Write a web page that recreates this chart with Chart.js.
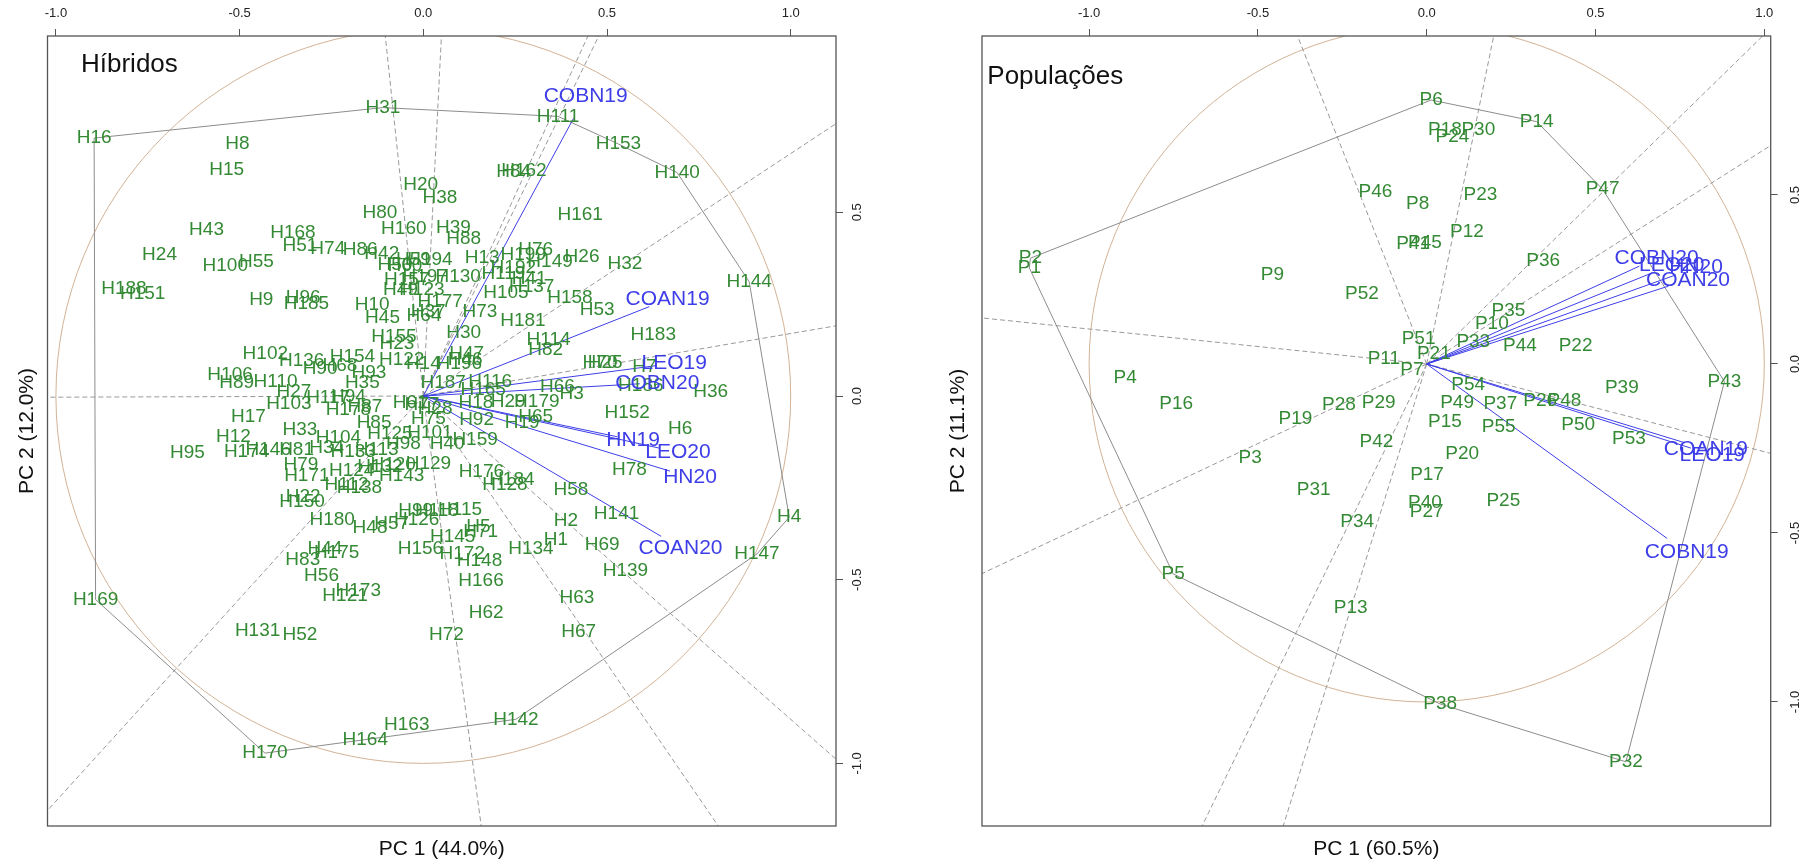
<!DOCTYPE html>
<html><head><meta charset="utf-8">
<script src="https://cdn.jsdelivr.net/npm/chart.js@4/dist/chart.umd.min.js"></script>
<style>
html,body{margin:0;padding:0;background:#fff;}
#wrap{position:relative;width:1807px;height:867px;overflow:hidden;}
canvas{position:absolute;top:0;}
</style></head><body>
<div id="wrap">
<canvas id="c1" width="903" height="867" style="left:0px"></canvas>
<canvas id="c2" width="904" height="867" style="left:903px"></canvas>
</div>
<script>
// ---------------- data ----------------
const tickValues = [-1, -0.5, 0, 0.5, 1];
const circleRadius = 1;

// Híbridos (genotypes)
const hybNames = ['H16','H31','H111','H153','H140','H144','H4','H147','H142','H163','H164','H170','H169','H8','H15','H20','H38','H80','H160','H39','H88','H43','H168','H51','H74','H86','H42','H24','H100','H55','H188','H151','H9','H96','H185','H10','H45','H64','H37','H177','H49','H123','H157','H197','H130','H50','H60','H59','H194','H84','H162','H161','H76','H26','H32','H13','H199','H149','H119','H192','H41','H105','H137','H158','H53','H73','H181','H183','H30','H114','H82','H25','H70','H7','H186','H36','H66','H3','H152','H6','H78','H58','H141','H2','H1','H134','H69','H139','H63','H67','H62','H72','H166','H148','H172','H156','H5','H145','H71','H99','H118','H115','H180','H48','H57','H126','H173','H121','H56','H83','H44','H175','H131','H52','H150','H22','H171','H79','H124','H138','H112','H143','H120','H129','H132','H133','H113','H98','H125','H85','H101','H75','H28','H92','H40','H159','H176','H128','H184','H19','H65','H18','H29','H179','H187','H116','H165','H47','H196','H122','H14','H46','H155','H23','H154','H136','H102','H90','H68','H93','H35','H106','H89','H110','H27','H103','H117','H94','H178','H87','H17','H12','H95','H174','H146','H81','H34','H104','H33','H61','H77'];
const hybPC1 = [-0.896,-0.110,0.367,0.531,0.691,0.887,0.996,0.908,0.252,-0.045,-0.158,-0.431,-0.892,-0.506,-0.535,-0.007,0.045,-0.118,-0.053,0.082,0.110,-0.590,-0.355,-0.336,-0.260,-0.172,-0.113,-0.718,-0.539,-0.454,-0.815,-0.764,-0.441,-0.327,-0.318,-0.139,-0.111,0.002,0.013,0.046,-0.062,-0.004,-0.045,0.005,0.095,-0.077,-0.050,-0.027,0.018,0.246,0.274,0.427,0.306,0.432,0.549,0.160,0.272,0.345,0.218,0.245,0.288,0.225,0.295,0.399,0.473,0.154,0.271,0.626,0.110,0.341,0.333,0.495,0.481,0.602,0.592,0.782,0.365,0.404,0.555,0.699,0.561,0.402,0.526,0.388,0.361,0.293,0.487,0.550,0.418,0.423,0.171,0.063,0.157,0.153,0.106,-0.008,0.150,0.080,0.156,-0.021,0.037,0.100,-0.248,-0.145,-0.086,-0.018,-0.177,-0.213,-0.277,-0.328,-0.268,-0.236,-0.451,-0.336,-0.330,-0.327,-0.317,-0.333,-0.195,-0.174,-0.209,-0.059,-0.082,0.014,-0.118,-0.191,-0.127,-0.054,-0.091,-0.134,0.018,0.014,0.032,0.145,0.065,0.141,0.158,0.222,0.241,0.269,0.306,0.143,0.231,0.309,0.054,0.182,0.163,0.118,0.098,-0.059,0.000,0.114,-0.080,-0.072,-0.193,-0.331,-0.430,-0.281,-0.227,-0.148,-0.166,-0.526,-0.508,-0.402,-0.352,-0.366,-0.259,-0.204,-0.204,-0.159,-0.476,-0.517,-0.642,-0.481,-0.422,-0.345,-0.263,-0.231,-0.336,-0.036,-0.004];
const hybPC2 = [0.702,0.785,0.761,0.686,0.608,0.311,-0.330,-0.430,-0.880,-0.896,-0.936,-0.972,-0.554,0.686,0.617,0.576,0.540,0.500,0.456,0.458,0.429,0.452,0.443,0.408,0.402,0.399,0.388,0.384,0.355,0.366,0.293,0.278,0.261,0.268,0.250,0.248,0.212,0.218,0.229,0.257,0.289,0.290,0.316,0.325,0.325,0.357,0.354,0.372,0.370,0.611,0.613,0.493,0.397,0.379,0.361,0.375,0.384,0.366,0.334,0.348,0.320,0.282,0.296,0.268,0.236,0.230,0.205,0.166,0.173,0.154,0.125,0.091,0.091,0.080,0.027,0.012,0.025,0.007,-0.046,-0.088,-0.201,-0.254,-0.321,-0.339,-0.392,-0.415,-0.406,-0.476,-0.548,-0.642,-0.589,-0.649,-0.504,-0.449,-0.430,-0.415,-0.356,-0.383,-0.369,-0.312,-0.312,-0.310,-0.338,-0.358,-0.348,-0.338,-0.531,-0.544,-0.490,-0.446,-0.417,-0.426,-0.640,-0.651,-0.288,-0.274,-0.218,-0.188,-0.204,-0.249,-0.242,-0.218,-0.188,-0.185,-0.192,-0.152,-0.147,-0.129,-0.104,-0.074,-0.100,-0.061,-0.034,-0.065,-0.129,-0.120,-0.206,-0.242,-0.229,-0.074,-0.056,-0.018,-0.016,-0.016,0.035,0.039,0.018,0.116,0.089,0.100,0.089,0.100,0.161,0.143,0.107,0.096,0.114,0.075,0.082,0.062,0.035,0.059,0.035,0.039,0.012,-0.020,-0.004,-0.002,-0.038,-0.029,-0.056,-0.111,-0.154,-0.152,-0.147,-0.147,-0.142,-0.115,-0.091,-0.018,-0.023];
const hybHull = ['H16','H31','H111','H153','H140','H144','H4','H147','H142','H170','H169'];
const hybEnvNames = ['COBN19','COAN19','LEO19','COBN20','HN19','LEO20','HN20','COAN20'];
const hybEnvPC1 = [0.442,0.665,0.683,0.637,0.571,0.693,0.726,0.700];
const hybEnvPC2 = [0.817,0.263,0.089,0.036,-0.120,-0.153,-0.221,-0.413];

// Populações
const popNames = ['P6','P14','P47','P43','P32','P38','P5','P1','P2','P9','P52','P46','P4','P16','P11','P19','P28','P29','P3','P31','P34','P42','P13','P18','P24','P30','P8','P23','P12','P41','P45','P36','P35','P10','P33','P44','P22','P51','P21','P7','P54','P49','P37','P26','P48','P15','P55','P20','P17','P40','P27','P25','P39','P50','P53'];
const popPC1 = [0.013,0.326,0.521,0.882,0.590,0.040,-0.751,-1.177,-1.174,-0.457,-0.192,-0.152,-0.893,-0.742,-0.127,-0.389,-0.260,-0.142,-0.523,-0.335,-0.206,-0.149,-0.225,0.054,0.076,0.153,-0.027,0.159,0.119,-0.040,-0.005,0.345,0.242,0.193,0.138,0.276,0.441,-0.024,0.021,-0.044,0.123,0.090,0.218,0.336,0.408,0.054,0.213,0.105,0.001,-0.005,0.000,0.227,0.578,0.449,0.599];
const popPC2 = [0.781,0.717,0.517,-0.052,-1.177,-1.006,-0.621,0.284,0.313,0.263,0.209,0.510,-0.041,-0.118,0.014,-0.161,-0.121,-0.116,-0.276,-0.371,-0.468,-0.230,-0.721,0.692,0.673,0.692,0.475,0.500,0.390,0.355,0.359,0.305,0.157,0.120,0.066,0.053,0.053,0.076,0.030,-0.016,-0.062,-0.116,-0.118,-0.109,-0.109,-0.171,-0.186,-0.266,-0.328,-0.412,-0.437,-0.404,-0.069,-0.181,-0.222];
const popHull = ['P6','P14','P47','P43','P32','P38','P5','P1','P2'];
const popEnvNames = ['COBN20','LEO20','HN20','COAN20','COAN19','LEO19','COBN19'];
const popEnvPC1 = [0.681,0.726,0.798,0.774,0.827,0.846,0.770];
const popEnvPC2 = [0.313,0.293,0.285,0.249,-0.252,-0.269,-0.558];

// ---------------- styles ----------------
const FONT = "'Liberation Sans', Arial, Helvetica, sans-serif";
const GREEN = '#348a34';
const BLUE = '#3e3ee8';
const GRAY = '#8c8c8c';
const CIRCLE = '#d2b396';
const BOX = '#555555';
const VECTOR_FRACTION = 0.925;

function extendToBox(px, py, b) {
  let s = Infinity;
  if (px > 0) s = Math.min(s, b.xMax / px);
  if (px < 0) s = Math.min(s, b.xMin / px);
  if (py > 0) s = Math.min(s, b.yMax / py);
  if (py < 0) s = Math.min(s, b.yMin / py);
  return {x: px * s, y: py * s};
}

function buildDatasets(names, xs, ys, hull, envNames, envX, envY, bounds) {
  const ds = [];
  envNames.forEach((n, i) => {
    ds.push({data: [{x: 0, y: 0}, {x: envX[i] * VECTOR_FRACTION, y: envY[i] * VECTOR_FRACTION}],
      showLine: true, borderColor: BLUE, borderWidth: 1, pointRadius: 0, fill: false});
  });
  const hp = hull.map(n => { const k = names.indexOf(n); return {x: xs[k], y: ys[k]}; });
  hp.push(hp[0]);
  ds.push({data: hp, showLine: true, borderColor: GRAY, borderWidth: 1, pointRadius: 0, fill: false});
  for (let i = 0; i < hull.length; i++) {
    const a = hp[i], b = hp[i + 1];
    const dx = b.x - a.x, dy = b.y - a.y;
    const t = -(a.x * dx + a.y * dy) / (dx * dx + dy * dy);
    const fx = a.x + t * dx, fy = a.y + t * dy;
    const end = extendToBox(fx, fy, bounds);
    ds.push({data: [{x: 0, y: 0}, end], showLine: true, borderColor: '#999999', borderWidth: 1,
      borderDash: [5, 3], pointRadius: 0, fill: false});
  }
  ds.push({data: names.map((n, i) => ({x: xs[i], y: ys[i]})), pointRadius: 0, showLine: false,
    textLabels: names, textColor: GREEN, textSize: 19});
  ds.push({data: envNames.map((n, i) => ({x: envX[i], y: envY[i]})), pointRadius: 0, showLine: false,
    textLabels: envNames, textColor: BLUE, textSize: 21});
  return ds;
}

const biplotPlugin = {
  id: 'biplot',
  beforeDatasetsDraw(chart) {
    const {ctx, chartArea: a, scales: {x, y}} = chart;
    const cx = x.getPixelForValue(0), cy = y.getPixelForValue(0);
    const rx = x.getPixelForValue(circleRadius) - cx;
    const ry = cy - y.getPixelForValue(circleRadius);
    ctx.save();
    ctx.beginPath(); ctx.rect(a.left, a.top, a.right - a.left, a.bottom - a.top); ctx.clip();
    ctx.beginPath(); ctx.ellipse(cx, cy, rx, ry, 0, 0, Math.PI * 2);
    ctx.strokeStyle = CIRCLE; ctx.lineWidth = 1; ctx.stroke();
    ctx.restore();
  },
  afterDatasetsDraw(chart) {
    const ctx = chart.ctx;
    chart.data.datasets.forEach((ds, i) => {
      if (!ds.textLabels) return;
      const meta = chart.getDatasetMeta(i);
      ctx.save();
      ctx.font = ds.textSize + 'px ' + FONT;
      ctx.fillStyle = ds.textColor;
      ctx.textAlign = 'center'; ctx.textBaseline = 'middle';
      meta.data.forEach((el, j) => ctx.fillText(ds.textLabels[j], el.x, el.y));
      ctx.restore();
    });
  },
  afterDraw(chart, args, opts) {
    const {ctx, chartArea: a} = chart;
    ctx.save();
    ctx.strokeStyle = BOX; ctx.lineWidth = 1.3;
    ctx.strokeRect(a.left, a.top, a.right - a.left, a.bottom - a.top);
    ctx.font = '26px ' + FONT; ctx.fillStyle = '#111';
    ctx.textAlign = 'left'; ctx.textBaseline = 'middle';
    ctx.fillText(opts.title, a.left + opts.titleDx, a.top + opts.titleDy);
    ctx.restore();
  }
};

function makeChart(id, p) {
  const b = p.bounds;
  const fmt = v => Number(v).toFixed(1);
  new Chart(document.getElementById(id), {
    type: 'scatter',
    data: {datasets: buildDatasets(p.names, p.xs, p.ys, p.hull, p.envNames, p.envX, p.envY, b)},
    plugins: [biplotPlugin],
    options: {
      responsive: false, animation: false, devicePixelRatio: 1, events: [],
      layout: {padding: 0},
      plugins: {legend: {display: false}, tooltip: {enabled: false},
        biplot: {title: p.title, titleDx: p.titleDx, titleDy: p.titleDy}},
      scales: {
        x: {type: 'linear', position: 'top', min: b.xMin, max: b.xMax,
          afterFit: s => { s.height = 36; },
          afterBuildTicks: s => { s.ticks = tickValues.map(v => ({value: v})); },
          ticks: {callback: fmt, font: {size: 13, family: FONT}, color: '#222', padding: 7.9, maxRotation: 0, autoSkip: false},
          grid: {drawOnChartArea: false, drawTicks: true, tickLength: 7, color: BOX},
          border: {display: false}},
        y: {type: 'linear', position: 'right', min: b.yMin, max: b.yMax,
          afterFit: s => { s.width = p.rightW; },
          afterBuildTicks: s => { s.ticks = tickValues.filter(v => v >= b.yMin && v <= b.yMax).map(v => ({value: v})); },
          ticks: {callback: fmt, font: {size: 13, family: FONT}, color: '#222', padding: p.yTickPad,
            minRotation: 90, maxRotation: 90, crossAlign: 'center', autoSkip: false},
          grid: {drawOnChartArea: false, drawTicks: true, tickLength: 7, color: BOX},
          border: {display: false}},
        yl: {type: 'linear', position: 'left', min: b.yMin, max: b.yMax,
          afterFit: s => { s.width = p.leftW; },
          ticks: {display: false}, grid: {display: false}, border: {display: false},
          title: {display: true, text: p.yTitle, color: '#111', font: {size: 21, family: FONT},
            padding: {top: p.yTitlePad, bottom: 0}}},
        xb: {type: 'linear', position: 'bottom', min: b.xMin, max: b.xMax,
          afterFit: s => { s.height = 41; },
          ticks: {display: false}, grid: {display: false}, border: {display: false},
          title: {display: true, text: p.xTitle, color: '#111', font: {size: 21, family: FONT},
            padding: {top: 0, bottom: 5}}}
      }
    }
  });
}

makeChart('c1', {
  names: hybNames, xs: hybPC1, ys: hybPC2, hull: hybHull,
  envNames: hybEnvNames, envX: hybEnvPC1, envY: hybEnvPC2,
  bounds: {xMin: -1.0229, xMax: 1.1233, yMin: -1.1704, yMax: 0.9799},
  leftW: 47.5, rightW: 67, yTickPad: 2.8, yTitlePad: 14.4,
  title: 'Híbridos', titleDx: 33.5, titleDy: 29,
  xTitle: 'PC 1 (44.0%)', yTitle: 'PC 2 (12.0%)'
});
makeChart('c2', {
  names: popNames, xs: popPC1, ys: popPC2, hull: popHull,
  envNames: popEnvNames, envX: popEnvPC1, envY: popEnvPC2,
  bounds: {xMin: -1.3173, xMax: 1.0190, yMin: -1.3669, yMax: 0.9704},
  leftW: 79, rightW: 36.3, yTickPad: 6.1, yTitlePad: 42.4,
  title: 'Populações', titleDx: 5.3, titleDy: 40.7,
  xTitle: 'PC 1 (60.5%)', yTitle: 'PC 2 (11.1%)'
});
</script>
</body></html>
